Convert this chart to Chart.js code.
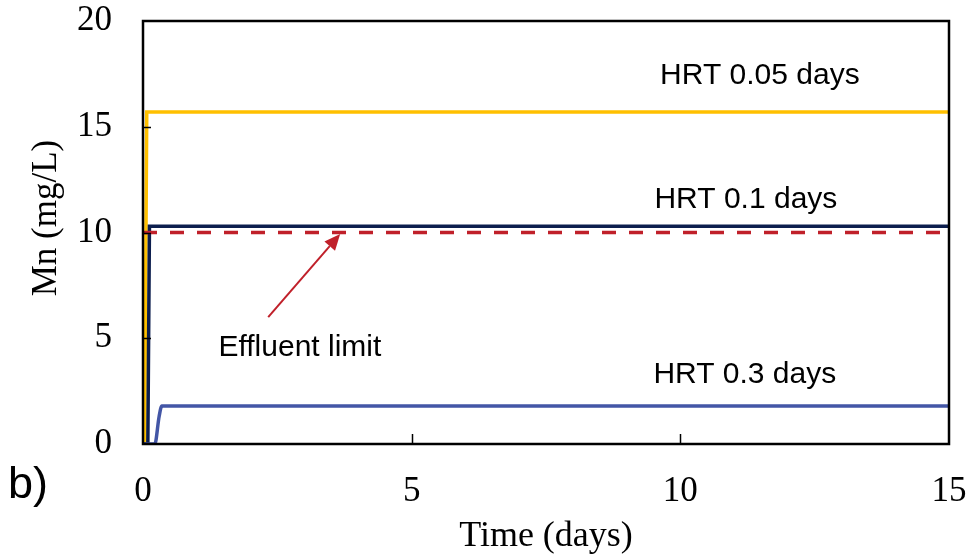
<!DOCTYPE html>
<html><head><meta charset="utf-8">
<script src="https://cdn.jsdelivr.net/npm/chart.js@4"></script>
<style>html,body{margin:0;padding:0;background:#fff}</style>
</head><body>
<canvas id="c" width="971" height="557"></canvas>
<script>
// ---- data ----
const timeHRT005 = [0, 0.03, 0.07, 15];
const mnHRT005   = [0, 0, 15.7, 15.7];
const timeHRT01  = [0, 0.09, 0.12, 15];
const mnHRT01    = [0, 0, 10.3, 10.3];
const timeHRT03  = [0, 0.22, 0.3, 0.35, 15];
const mnHRT03    = [0, 0, 1.3, 1.8, 1.8];
const timeLimit  = [0, 15];
const mnLimit    = [10, 10];
const xTicks = [0, 5, 10, 15];
const yTicks = [0, 5, 10, 15, 20];
const yTitle = 'Mn (mg/L)';
const labelTexts = ['HRT 0.05 days', 'HRT 0.1 days', 'HRT 0.3 days', 'Effluent limit'];
const labelX = [11.48, 11.22, 11.2, 2.92];
const labelY = [17.4, 11.54, 3.26, 4.54];
const arrowFrom = [2.33, 6.0];
const arrowTo = [3.67, 9.93];

const pts = (xs, ys) => xs.map((x, i) => ({x, y: ys[i]}));
const SERIF = '"Liberation Serif", "Times New Roman", serif';
const SANS = '"Liberation Sans", Arial, sans-serif';

const decor = {
  id: 'decor',
  afterDatasetsDraw(chart) {
    const {ctx, chartArea: a, scales: {x, y}} = chart;
    ctx.save();
    // inside ticks
    ctx.strokeStyle = '#000';
    ctx.lineWidth = 1.5;
    yTicks.forEach(v => {
      if (v === 0 || v === 20) return;
      const py = Math.round(y.getPixelForValue(v)) + 0.5;
      ctx.beginPath(); ctx.moveTo(a.left, py); ctx.lineTo(a.left + 8, py); ctx.stroke();
    });
    xTicks.forEach(v => {
      if (v === 0 || v === 15) return;
      const px = Math.round(x.getPixelForValue(v)) + 0.5;
      ctx.beginPath(); ctx.moveTo(px, a.bottom); ctx.lineTo(px, a.bottom - 10); ctx.stroke();
    });
    // frame
    ctx.lineWidth = 2.5;
    ctx.strokeRect(a.left, a.top, a.right - a.left, a.bottom - a.top);
    // arrow
    const x1 = x.getPixelForValue(arrowFrom[0]), y1 = y.getPixelForValue(arrowFrom[1]);
    const x2 = x.getPixelForValue(arrowTo[0]), y2 = y.getPixelForValue(arrowTo[1]);
    const ang = Math.atan2(y2 - y1, x2 - x1);
    const hl = 16, hw = 7;
    ctx.strokeStyle = '#C0202A'; ctx.fillStyle = '#C0202A'; ctx.lineWidth = 2;
    ctx.beginPath(); ctx.moveTo(x1, y1);
    ctx.lineTo(x2 - hl * Math.cos(ang), y2 - hl * Math.sin(ang)); ctx.stroke();
    ctx.beginPath();
    ctx.moveTo(x2, y2);
    ctx.lineTo(x2 - hl * Math.cos(ang) + hw * Math.sin(ang), y2 - hl * Math.sin(ang) - hw * Math.cos(ang));
    ctx.lineTo(x2 - hl * Math.cos(ang) - hw * Math.sin(ang), y2 - hl * Math.sin(ang) + hw * Math.cos(ang));
    ctx.closePath(); ctx.fill();
    // labels
    ctx.fillStyle = '#000';
    ctx.font = '30px ' + SANS;
    ctx.textAlign = 'center'; ctx.textBaseline = 'middle';
    labelTexts.forEach((t, i) => {
      ctx.fillText(t, x.getPixelForValue(labelX[i]), y.getPixelForValue(labelY[i]));
    });
    // y-axis title (slightly above centre, as in the reference)
    ctx.save();
    ctx.translate(47, 218);
    ctx.rotate(-Math.PI / 2);
    ctx.font = '35px ' + SERIF;
    ctx.fillText(yTitle, 0, 0);
    ctx.restore();
    // panel label
    ctx.font = '45px ' + SANS;
    ctx.textAlign = 'left'; ctx.textBaseline = 'alphabetic';
    ctx.fillText('b)', 8, 498);
    ctx.restore();
  }
};

new Chart(document.getElementById('c'), {
  type: 'line',
  data: {
    datasets: [
      {label: 'HRT 0.05 days', data: pts(timeHRT005, mnHRT005), borderColor: '#FFC000', borderWidth: 3.5, order: 4},
      {label: 'HRT 0.1 days', data: pts(timeHRT01, mnHRT01), borderColor: '#0C1E4E', borderWidth: 3.5, order: 3},
      {label: 'HRT 0.3 days', data: pts(timeHRT03, mnHRT03), borderColor: '#4356A6', borderWidth: 3.5, order: 2, cubicInterpolationMode: 'monotone'},
      {label: 'Effluent limit', data: pts(timeLimit, mnLimit), borderColor: '#C0202A', borderWidth: 3.5, borderDash: [14, 13], order: 1}
    ]
  },
  options: {
    responsive: false,
    animation: false,
    events: [],
    elements: {point: {radius: 0}, line: {tension: 0, borderCapStyle: 'butt'}},
    layout: {padding: {left: 0, right: 22, top: 21, bottom: 0}},
    plugins: {legend: {display: false}, tooltip: {enabled: false}},
    scales: {
      x: {
        type: 'linear', min: 0, max: 15,
        afterFit: s => { s.height = 113; s.paddingLeft = 0; s.paddingRight = 0; },
        afterBuildTicks: s => { s.ticks = xTicks.map(v => ({value: v})); },
        grid: {display: false, drawTicks: false},
        border: {display: false},
        ticks: {color: '#000', font: {family: SERIF, size: 35}, padding: 27, maxRotation: 0},
        title: {display: true, text: 'Time (days)', color: '#000', font: {family: SERIF, size: 36, lineHeight: 1}, padding: {top: 0, bottom: 2}}
      },
      y: {
        min: 0, max: 20,
        afterFit: s => { s.width = 143; s.paddingTop = 0; s.paddingBottom = 0; },
        afterBuildTicks: s => { s.ticks = yTicks.map(v => ({value: v})); },
        grid: {display: false, drawTicks: false},
        border: {display: false},
        ticks: {color: '#000', font: {family: SERIF, size: 35}, padding: 31},
        title: {display: false}
      }
    }
  },
  plugins: [decor]
});
</script>
</body></html>
